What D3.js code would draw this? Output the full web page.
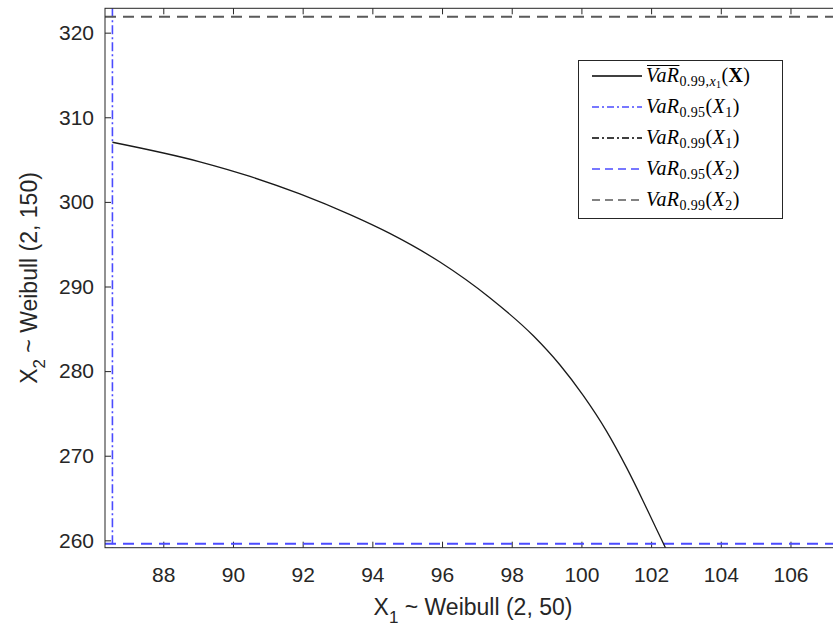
<!DOCTYPE html>
<html>
<head>
<meta charset="utf-8">
<script src="https://cdn.jsdelivr.net/npm/d3@7"></script>
<style>
  body { margin: 0; background: #fff; }
  svg { display: block; }
  .tick text { font-family: "Liberation Sans", Arial, sans-serif; font-size: 21px; fill: #262626; }
  .lbl { font-family: "Liberation Sans", Arial, sans-serif; font-size: 23px; fill: #262626; }
  .leg { font-family: "Liberation Serif", "DejaVu Serif", serif; font-size: 20px; fill: #000; letter-spacing: 0.4px; }
</style>
</head>
<body>
<svg id="chart"></svg>
<script>
// data
const curveX1 = [86.54, 89.05, 90.49, 91.92, 93.36, 94.50, 95.94, 97.37, 98.62, 99.38, 100.05, 100.72, 101.30, 101.77, 102.16, 102.42];
const curveX2 = [307.05, 304.74, 303.01, 300.94, 298.49, 296.27, 292.89, 288.67, 284.17, 280.75, 277.13, 272.91, 268.56, 264.66, 261.27, 259.05];

const var95X1 = 86.54;
const var99X1 = 107.31;
const var95X2 = 259.61;
const var99X2 = 321.89;

const xTicks = [88, 90, 92, 94, 96, 98, 100, 102, 104, 106];
const yTicks = [260, 270, 280, 290, 300, 310, 320];
const xDomain = [86.327, 107.45];
const yDomain = [259.13, 322.88];

var W = 833, H = 633;
var margin = { top: 8.3, left: 105, right: -8, bottom: 85.3 };
var width = W - margin.left - margin.right;
var height = H - margin.top - margin.bottom;

const root = d3.select("#chart").attr("width", W).attr("height", H);
const svg = root.append("g").attr("transform", `translate(${margin.left},${margin.top})`);

const x = d3.scaleLinear().domain(xDomain).range([0, width]);
const y = d3.scaleLinear().domain(yDomain).range([height, 0]);

svg.append("clipPath").attr("id", "clip")
  .append("rect").attr("width", width).attr("height", height);

const axisColor = "#262626";
function styleAxis(g) {
  g.select(".domain").remove();
  g.selectAll(".tick line").attr("stroke", axisColor);
}

// axes, ticks pointing inward (also on top/right)
svg.append("g").attr("transform", `translate(0,${height})`)
  .call(d3.axisBottom(x).tickValues(xTicks).tickSizeInner(-6).tickSizeOuter(0).tickPadding(19))
  .call(styleAxis);
svg.append("g")
  .call(d3.axisTop(x).tickValues(xTicks).tickSizeInner(-6).tickSizeOuter(0).tickFormat(""))
  .call(styleAxis);
svg.append("g")
  .call(d3.axisLeft(y).tickValues(yTicks).tickSizeInner(-6).tickSizeOuter(0).tickPadding(11))
  .call(styleAxis);
svg.append("g").attr("transform", `translate(${width},0)`)
  .call(d3.axisRight(y).tickValues(yTicks).tickSizeInner(-6).tickSizeOuter(0).tickFormat(""))
  .call(styleAxis);

const plot = svg.append("g").attr("clip-path", "url(#clip)");

const blue = "#4b4bff", grey = "#5a5a5a";
const dashDot = "9,3,2,3", dash = "11,7";

// reference lines
plot.append("line").attr("x1", x(var95X1)).attr("x2", x(var95X1)).attr("y1", 0).attr("y2", height)
  .attr("stroke", blue).attr("stroke-width", 1.6).attr("stroke-dasharray", dashDot);
plot.append("line").attr("x1", x(var99X1)).attr("x2", x(var99X1)).attr("y1", 0).attr("y2", height)
  .attr("stroke", grey).attr("stroke-width", 1.6).attr("stroke-dasharray", dashDot);
plot.append("line").attr("x1", 0).attr("x2", width).attr("y1", y(var95X2)).attr("y2", y(var95X2))
  .attr("stroke", blue).attr("stroke-width", 2).attr("stroke-dasharray", dash);
plot.append("line").attr("x1", 0).attr("x2", width).attr("y1", y(var99X2)).attr("y2", y(var99X2))
  .attr("stroke", grey).attr("stroke-width", 2).attr("stroke-dasharray", dash);

// the curve
const line = d3.line().x((d, i) => x(curveX1[i])).y((d, i) => y(curveX2[i])).curve(d3.curveMonotoneX);
plot.append("path").datum(curveX1).attr("d", line)
  .attr("fill", "none").attr("stroke", "#1a1a1a").attr("stroke-width", 1.3);

// box
svg.append("rect").attr("width", width).attr("height", height)
  .attr("fill", "none").attr("stroke", axisColor).attr("stroke-width", 1);

// axis labels
const xl = root.append("text").attr("class", "lbl").attr("text-anchor", "middle")
  .attr("x", margin.left + width / 2).attr("y", 615);
xl.append("tspan").text("X");
xl.append("tspan").attr("font-size", "17px").attr("dy", 8).text("1");
xl.append("tspan").attr("dy", -8).text(" ~ Weibull (2, 50)");

const yl = root.append("text").attr("class", "lbl").attr("text-anchor", "middle")
  .attr("transform", `translate(37,${margin.top + height / 2}) rotate(-90)`);
yl.append("tspan").text("X");
yl.append("tspan").attr("font-size", "17px").attr("dy", 8).text("2");
yl.append("tspan").attr("dy", -8).text(" ~ Weibull (2, 150)");

// legend
const leg = root.append("g");
leg.append("rect").attr("x", 578.5).attr("y", 60.5).attr("width", 204).attr("height", 158)
  .attr("fill", "#fff").attr("stroke", axisColor).attr("stroke-width", 1);

const legendRows = [
  { color: "#000", dasharray: null, sw: 1.3, kind: "bar" },
  { color: blue, dasharray: "7,3,2,3", sw: 1.3, lvl: "0.95", v: "1" },
  { color: "#000", dasharray: "7,3,2,3", sw: 1.3, lvl: "0.99", v: "1" },
  { color: blue, dasharray: "8,5", sw: 1.6, lvl: "0.95", v: "2" },
  { color: grey, dasharray: "8,5", sw: 1.6, lvl: "0.99", v: "2" }
];
const rowY = [76, 107, 138, 169, 200];

legendRows.forEach(function (r, i) {
  const yy = rowY[i];
  const ln = leg.append("line").attr("x1", 592).attr("x2", 642).attr("y1", yy).attr("y2", yy)
    .attr("stroke", r.color).attr("stroke-width", r.sw);
  if (r.dasharray) ln.attr("stroke-dasharray", r.dasharray);

  const t = leg.append("text").attr("class", "leg").attr("x", 646).attr("y", yy + 6);
  const v = t.append("tspan").attr("font-style", "italic").text("VaR");
  if (r.kind === "bar") {
    t.append("tspan").attr("font-size", "14px").attr("dy", 4).text("0.99,");
    t.append("tspan").attr("font-size", "14px").attr("font-style", "italic").text("x");
    t.append("tspan").attr("font-size", "10px").attr("dy", 2).text("1");
    t.append("tspan").attr("dy", -6).text("(");
    t.append("tspan").attr("font-weight", "bold").text("X");
    t.append("tspan").text(")");
    const w = v.node().getComputedTextLength();
    leg.append("line").attr("x1", 647).attr("x2", 646 + w).attr("y1", yy - 10.5).attr("y2", yy - 10.5)
      .attr("stroke", "#000").attr("stroke-width", 1);
  } else {
    t.append("tspan").attr("font-size", "14px").attr("dy", 4).text(r.lvl);
    t.append("tspan").attr("dy", -4).text("(");
    t.append("tspan").attr("font-style", "italic").text("X");
    t.append("tspan").attr("font-size", "14px").attr("dy", 4).text(r.v);
    t.append("tspan").attr("dy", -4).text(")");
  }
});
</script>
</body>
</html>
